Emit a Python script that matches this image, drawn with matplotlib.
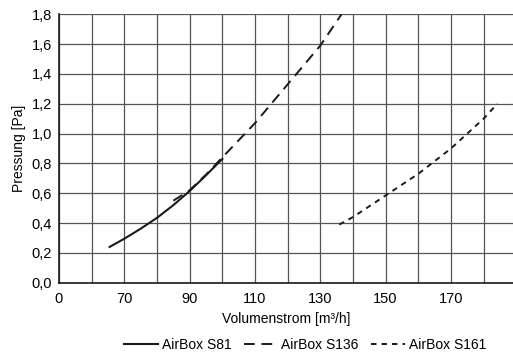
import matplotlib.pyplot as plt

# Kennlinien (Volumenstrom m³/h -> Pressung Pa)
s81_x = [65.5, 70, 75, 80, 85, 90, 95, 100]
s81_y = [0.24, 0.295, 0.362, 0.435, 0.52, 0.615, 0.72, 0.83]

s136_x = [85, 90, 95, 100, 110, 120, 130, 136.5]
s136_y = [0.55, 0.62, 0.725, 0.84, 1.07, 1.33, 1.59, 1.80]

s161_x = [135.8, 140, 150, 160, 170, 180, 184.2]
s161_y = [0.39, 0.44, 0.585, 0.73, 0.90, 1.10, 1.20]

x_ticks = [50, 70, 90, 110, 130, 150, 170]
x_tick_labels = ['0', '70', '90', '110', '130', '150', '170']
y_ticks = [0.0, 0.2, 0.4, 0.6, 0.8, 1.0, 1.2, 1.4, 1.6, 1.8]

plt.rcParams['font.family'] = ['Liberation Sans', 'DejaVu Sans']

fig = plt.figure(figsize=(5.13, 3.54), dpi=100)
ax = fig.add_axes([0.115, 0.2014, 0.885, 0.7582])

ax.plot(s81_x, s81_y, color='#1a1a1a', lw=1.5, label='AirBox S81')
ax.plot(s136_x, s136_y, color='#1a1a1a', lw=1.4, linestyle=(0, (5.5, 3.5)), label='AirBox S136')
ax.plot(s161_x, s161_y, color='#1a1a1a', lw=1.4, linestyle=(0, (2.8, 2.6)), label='AirBox S161')

ax.set_xlim(50, 189)
ax.set_ylim(0, 1.8)
ax.set_xticks(x_ticks)
ax.set_xticklabels(x_tick_labels)
ax.set_xticks(range(60, 190, 20), minor=True)
ax.set_yticks(y_ticks)
ax.set_yticklabels([f'{v:.1f}'.replace('.', ',') for v in y_ticks])

ax.grid(True, which='both', color='#555555', lw=0.9)
ax.set_axisbelow(True)
ax.tick_params(which='both', length=0, labelsize=10.5)
ax.tick_params(axis='x', pad=7)
ax.tick_params(axis='y', pad=5)
for side in ['top', 'right']:
    ax.spines[side].set_visible(False)
for side in ['left', 'bottom']:
    ax.spines[side].set_color('#1a1a1a')
    ax.spines[side].set_linewidth(1.2)

ax.set_xlabel('Volumenstrom [m³/h]', fontsize=10, labelpad=4)
ax.set_ylabel('Pressung [Pa]', fontsize=10, labelpad=4)

fig.legend(loc='lower center', bbox_to_anchor=(0.595, -0.03), ncol=3, frameon=False,
           fontsize=10, handlelength=2.4, handletextpad=0.3, columnspacing=0.9)

plt.savefig('out.png', dpi=100)
